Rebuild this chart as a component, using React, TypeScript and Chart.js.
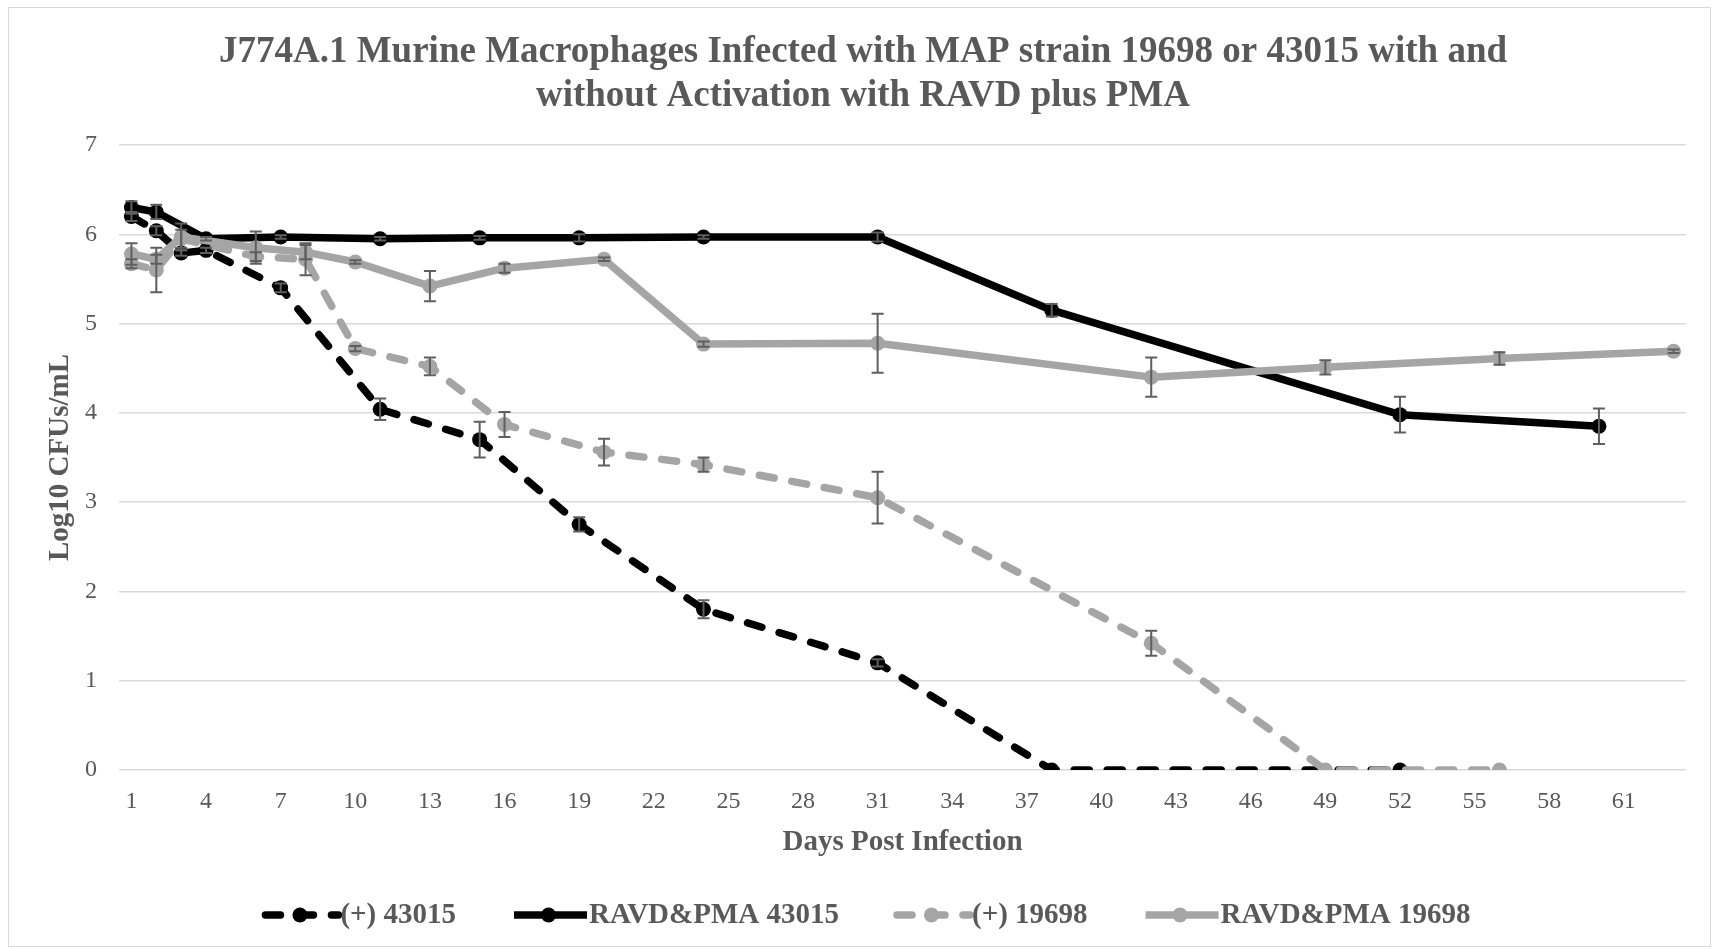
import React, { useEffect, useRef } from "react";
import { Chart, registerables } from "chart.js";

Chart.register(...registerables);

const titleLines = [
  "J774A.1 Murine Macrophages Infected with MAP strain 19698 or 43015 with and",
  "without Activation with RAVD plus PMA",
];
const xAxisTitle = "Days Post Infection";
const yAxisTitle = "Log10 CFUs/mL";
const xTickDays = [1, 4, 7, 10, 13, 16, 19, 22, 25, 28, 31, 34, 37, 40, 43, 46, 49, 52, 55, 58, 61];
const yTicks = [0, 1, 2, 3, 4, 5, 6, 7];

const seriesNames = ["(+) 43015", "RAVD&PMA 43015", "(+) 19698", "RAVD&PMA 19698"];

const daysPlus43015 = [1, 2, 3, 4, 7, 11, 15, 19, 24, 31, 38, 52];
const cfuPlus43015 = [6.2, 6.04, 5.79, 5.82, 5.4, 4.04, 3.7, 2.75, 1.8, 1.2, 0, 0];
const errPlus43015 = [0.05, 0.05, 0.03, 0.03, 0.05, 0.12, 0.2, 0.08, 0.1, 0.04, 0, 0];

const daysRP43015 = [1, 2, 4, 7, 11, 15, 19, 24, 31, 38, 52, 60];
const cfuRP43015 = [6.3, 6.25, 5.95, 5.97, 5.95, 5.96, 5.96, 5.97, 5.97, 5.15, 3.98, 3.85];
const errRP43015 = [0.07, 0.08, 0.02, 0.02, 0.02, 0.02, 0.04, 0.02, 0.05, 0.07, 0.2, 0.2];

const daysPlus19698 = [1, 2, 3, 6, 8, 10, 13, 16, 20, 24, 31, 42, 49, 56];
const cfuPlus19698 = [5.67, 5.6, 5.95, 5.75, 5.72, 4.72, 4.52, 3.87, 3.56, 3.42, 3.05, 1.42, 0, 0];
const errPlus19698 = [0.05, 0.25, 0.1, 0.05, 0.18, 0.03, 0.1, 0.14, 0.15, 0.08, 0.29, 0.14, 0, 0];

const daysRP19698 = [1, 2, 3, 6, 8, 10, 13, 16, 20, 24, 31, 42, 49, 56, 63];
const cfuRP19698 = [5.78, 5.72, 5.97, 5.85, 5.8, 5.69, 5.42, 5.62, 5.72, 4.77, 4.78, 4.4, 4.51, 4.61, 4.69];
const errRP19698 = [0.12, 0.05, 0.15, 0.18, 0.08, 0.02, 0.17, 0.05, 0.02, 0.03, 0.33, 0.22, 0.08, 0.07, 0.02];

const BLACK = "#000000";
const GRAY = "#a5a5a5";
const TEXT = "#595959";
const FONT = "'Liberation Serif', 'Times New Roman', serif";
const DASH = [15, 18];

type Series = { name: string; days: number[]; vals: number[]; errs: number[]; color: string; dashed: boolean };

const series: Series[] = [
  { name: seriesNames[0], days: daysPlus43015, vals: cfuPlus43015, errs: errPlus43015, color: BLACK, dashed: true },
  { name: seriesNames[1], days: daysRP43015, vals: cfuRP43015, errs: errRP43015, color: BLACK, dashed: false },
  { name: seriesNames[2], days: daysPlus19698, vals: cfuPlus19698, errs: errPlus19698, color: GRAY, dashed: true },
  { name: seriesNames[3], days: daysRP19698, vals: cfuRP19698, errs: errRP19698, color: GRAY, dashed: false },
];

const errorBarPlugin = {
  id: "errorBars",
  afterDatasetsDraw(chart: any) {
    const { ctx, scales } = chart;
    const xs = scales.x;
    const ys = scales.y;
    ctx.save();
    ctx.strokeStyle = "#5f5f5f";
    ctx.lineWidth = 2;
    ctx.setLineDash([]);
    series.forEach((s) => {
      s.days.forEach((d, i) => {
        const e = s.errs[i];
        if (!e) return;
        const x = xs.getPixelForValue(d);
        const y1 = ys.getPixelForValue(s.vals[i] + e);
        const y2 = ys.getPixelForValue(s.vals[i] - e);
        ctx.beginPath();
        ctx.moveTo(x, y1);
        ctx.lineTo(x, y2);
        ctx.moveTo(x - 6, y1);
        ctx.lineTo(x + 6, y1);
        ctx.moveTo(x - 6, y2);
        ctx.lineTo(x + 6, y2);
        ctx.stroke();
      });
    });
    ctx.restore();
  },
};

const legendPlugin = {
  id: "customLegend",
  afterDraw(chart: any) {
    const ctx = chart.ctx;
    const sampleW = 77;
    const textGap = 2;
    const itemGap = 54;
    const centerX = 866;
    const y = 915;
    ctx.save();
    ctx.font = `bold 29px ${FONT}`;
    const widths = series.map((s) => ctx.measureText(s.name).width);
    const total = widths.reduce((a, w) => a + sampleW + textGap + w, 0) + itemGap * (series.length - 1);
    let x = centerX - total / 2;
    series.forEach((s, i) => {
      ctx.strokeStyle = s.color;
      ctx.lineWidth = 7.5;
      ctx.lineCap = s.dashed ? "round" : "butt";
      ctx.setLineDash(s.dashed ? DASH : []);
      ctx.beginPath();
      ctx.moveTo(x + 4, y);
      ctx.lineTo(x + sampleW, y);
      ctx.stroke();
      ctx.setLineDash([]);
      ctx.fillStyle = s.color;
      ctx.beginPath();
      ctx.arc(x + sampleW / 2, y, 7.5, 0, Math.PI * 2);
      ctx.fill();
      ctx.fillStyle = TEXT;
      ctx.textAlign = "left";
      ctx.textBaseline = "middle";
      ctx.fillText(s.name, x + sampleW + textGap, y + 1);
      x += sampleW + textGap + widths[i] + itemGap;
    });
    ctx.restore();
  },
};

export default function App() {
  const canvasRef = useRef<HTMLCanvasElement | null>(null);

  useEffect(() => {
    if (!canvasRef.current) return;
    const datasets = series.map((s, idx) => ({
      label: s.name,
      data: s.days.map((d, i) => ({ x: d, y: s.vals[i] })),
      borderColor: s.color,
      backgroundColor: s.color,
      pointBackgroundColor: s.color,
      pointBorderColor: s.color,
      pointRadius: 7.5,
      pointBorderWidth: 0,
      borderWidth: 7.5,
      borderDash: s.dashed ? DASH : [],
      borderCapStyle: s.dashed ? "round" : "butt",
      borderJoinStyle: "round",
      tension: 0,
      fill: false,
      order: series.length - idx,
    }));

    const chart = new Chart(canvasRef.current, {
      type: "line",
      data: { datasets } as any,
      options: {
        animation: false,
        responsive: false,
        maintainAspectRatio: false,
        layout: { padding: { left: 40, right: 27, top: 0, bottom: 89 } },
        plugins: {
          legend: { display: false },
          tooltip: { enabled: false },
          title: {
            display: true,
            text: titleLines,
            color: TEXT,
            font: { family: FONT, size: 37, weight: "bold", lineHeight: 44 / 37 },
            padding: { top: 30, bottom: 27 },
          },
        },
        scales: {
          x: {
            type: "linear",
            min: 0.5,
            max: 63.5,
            afterBuildTicks: (scale: any) => {
              scale.ticks = xTickDays.map((v) => ({ value: v }));
            },
            afterFit: (scale: any) => {
              scale.height = 90;
            },
            ticks: {
              color: TEXT,
              font: { family: FONT, size: 24 },
              padding: 17,
              autoSkip: false,
              maxRotation: 0,
              callback: (v: any) => String(v),
            },
            grid: { display: false, drawTicks: false },
            border: { display: false },
            title: {
              display: true,
              text: xAxisTitle,
              color: TEXT,
              font: { family: FONT, size: 29, weight: "bold" },
              padding: { top: 8, bottom: 0 },
            },
          },
          y: {
            type: "linear",
            min: 0,
            max: 7,
            afterBuildTicks: (scale: any) => {
              scale.ticks = yTicks.map((v) => ({ value: v }));
            },
            afterFit: (scale: any) => {
              scale.width = 79;
            },
            ticks: {
              color: TEXT,
              font: { family: FONT, size: 24 },
              padding: 22,
              callback: (v: any) => String(v),
            },
            grid: { color: "#d9d9d9", lineWidth: 1.5, drawTicks: false },
            border: { display: false },
            title: {
              display: true,
              text: yAxisTitle,
              color: TEXT,
              font: { family: FONT, size: 29, weight: "bold" },
              padding: { top: 3, bottom: 0 },
            },
          },
        },
      } as any,
      plugins: [errorBarPlugin, legendPlugin],
    });
    return () => chart.destroy();
  }, []);

  return (
    <div style={{ position: "fixed", left: 0, top: 0, width: 1713, height: 949, background: "#ffffff" }}>
      <canvas ref={canvasRef} width={1713} height={949} style={{ display: "block" }} />
      <div
        style={{
          position: "absolute",
          left: 8,
          top: 7,
          width: 1703,
          height: 940,
          border: "1px solid #d9d9d9",
          boxSizing: "border-box",
          pointerEvents: "none",
        }}
      />
    </div>
  );
}
